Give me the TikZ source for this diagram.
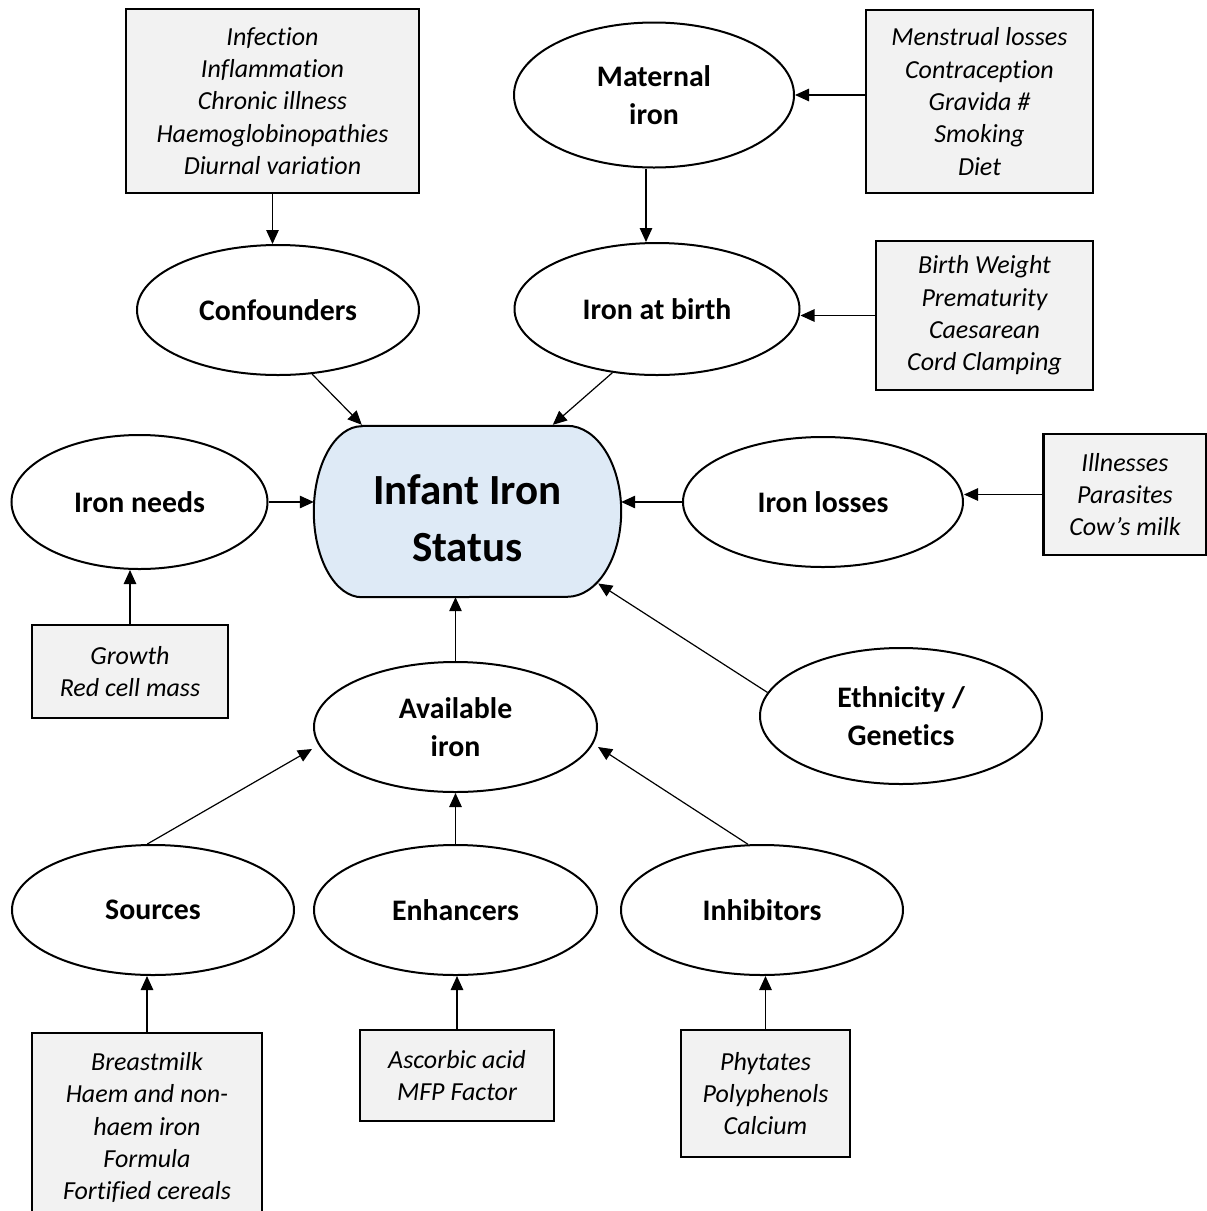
\documentclass[tikz,border=0pt]{standalone}
\usepackage{fontspec}
\setmainfont{Carlito}[Ligatures={NoCommon}]
\usetikzlibrary{shapes.geometric,arrows.meta,calc}
\definecolor{boxgray}{HTML}{F2F2F2}
\definecolor{centerblue}{HTML}{DEEAF6}
\begin{document}
\begin{tikzpicture}[x=1pt,y=-1pt,
  ell/.style={ellipse,draw,line width=2pt,fill=white,inner sep=0pt,align=center,
    font=\fontsize{29.8}{38}\selectfont\bfseries},
  fbox/.style={rectangle,draw,line width=2.2pt,fill=boxgray,inner sep=0pt,align=center,
    font=\fontsize{26}{32.4}\selectfont\itshape},
  arr/.style={line width=1.2pt,-{Triangle[length=14pt,width=12.5pt]}}]
\useasboundingbox (0,0) rectangle (1207,1211);

% central node
\node[rectangle,minimum width=307pt,minimum height=171pt,inner sep=0pt] (ctr) at (467.5,511.5) {};
\draw[line width=2pt,fill=centerblue]
  ($(ctr.north west)+(48,0)$) -- ($(ctr.north east)+(-54,0)$)
  arc[start angle=-90,end angle=90,x radius=54,y radius=85.5]
  -- ($(ctr.south west)+(48,0)$)
  arc[start angle=90,end angle=270,x radius=48,y radius=85.5] -- cycle;
\node[align=center,font=\fontsize{43}{57}\selectfont\bfseries] (ctrtext) at (467.5,518) {Infant Iron\\Status};

% boxes
\node[fbox,minimum width=293pt,minimum height=184pt] (cbox) at (272.5,101) {Infection\\Inflammation\\Chronic illness\\Haemoglobinopathies\\Diurnal variation};
\node[fbox,minimum width=227pt,minimum height=183pt] (mbox) at (979.5,101.5) {Menstrual losses\\Contraception\\Gravida \#\\Smoking\\Diet};
\node[fbox,minimum width=217pt,minimum height=149pt] (bbox) at (984.5,315.5) {Birth Weight\\Prematurity\\Caesarean\\Cord Clamping};
\node[fbox,minimum width=163pt,minimum height=121pt] (lbox) at (1125,494.5) {Illnesses\\Parasites\\Cow’s milk};
\node[fbox,minimum width=196pt,minimum height=93pt] (gbox) at (130,671.5) {Growth\\Red cell mass};
\node[fbox,minimum width=230pt,minimum height=189pt] (sbox) at (147,1127.5) {Breastmilk\\Haem and non-\\haem iron\\Formula\\Fortified cereals};
\node[fbox,minimum width=194pt,minimum height=91pt] (ebox) at (457,1075.5) {Ascorbic acid\\MFP Factor};
\node[fbox,minimum width=169pt,minimum height=127pt] (ibox) at (765.5,1093.5) {Phytates\\Polyphenols\\Calcium};

% ellipses
\node[ell,minimum width=280pt,minimum height=145pt] (mat) at (654,95) {Maternal\\iron};
\node[ell,minimum width=282pt,minimum height=130pt] (conf) at (278,310) {Confounders};
\node[ell,minimum width=285pt,minimum height=132pt] (birth) at (657,309) {Iron at birth};
\node[ell,minimum width=256pt,minimum height=134pt] (needs) at (139.5,502) {Iron needs};
\node[ell,minimum width=280pt,minimum height=130pt] (losses) at (823,502) {Iron losses};
\node[ell,minimum width=282pt,minimum height=136pt] (eth) at (901,716) {Ethnicity /\\Genetics};
\node[ell,minimum width=283pt,minimum height=130pt] (avail) at (455.5,727) {Available\\iron};
\node[ell,minimum width=282pt,minimum height=130pt] (src) at (153,910) {Sources};
\node[ell,minimum width=283pt,minimum height=130pt] (enh) at (455.5,910) {Enhancers};
\node[ell,minimum width=282pt,minimum height=130pt] (inh) at (762,910) {Inhibitors};

% attachment points on the central shape and on Available iron
\coordinate (ctl) at ($(ctr.north west)+(48,-1)$);
\coordinate (ctr2) at ($(ctr.north west)+(239,-1)$);
\coordinate (cbr) at ($(ctr.east)+(-23,72)$);
\coordinate (avl) at ($(avail.west)+(-1,22)$);
\coordinate (avr) at ($(avail.east)+(0,20)$);

% connectors
\draw[arr] (cbox.south) -- (cbox.south |- conf.north);
\draw[arr] ([xshift=-8pt]mat.south) -- ([xshift=-8pt]mat.south |- birth.north);
\draw[arr] (mbox.west |- mat.east) -- (mat.east);
\draw[arr] (bbox.west) -- (bbox.west -| birth.east);
\draw[arr] (conf.-62) -- (ctl);
\draw[arr] (birth.-125) -- (ctr2);
\draw[arr] (needs.east) -- (needs.east -| ctr.west);
\draw[arr] (losses.west) -- (losses.west -| ctr.east);
\draw[arr] (lbox.west) -- (lbox.west -| losses.east);
\draw[arr] (gbox.north) -- (gbox.north |- needs.south);
\draw[arr] (avail.north) -- (avail.north |- ctr.south);
\draw[arr] (eth.170) -- (cbr);
\draw[arr] (src.95) -- (avl);
\draw[arr] (enh.north) -- (avail.south);
\draw[arr] (inh.102) -- (avr);
\draw[arr] (sbox.north) -- (sbox.north |- src.south);
\draw[arr] (ebox.north) -- (ebox.north |- enh.south);
\draw[arr] (ibox.north) -- (ibox.north |- inh.south);
\end{tikzpicture}
\end{document}
